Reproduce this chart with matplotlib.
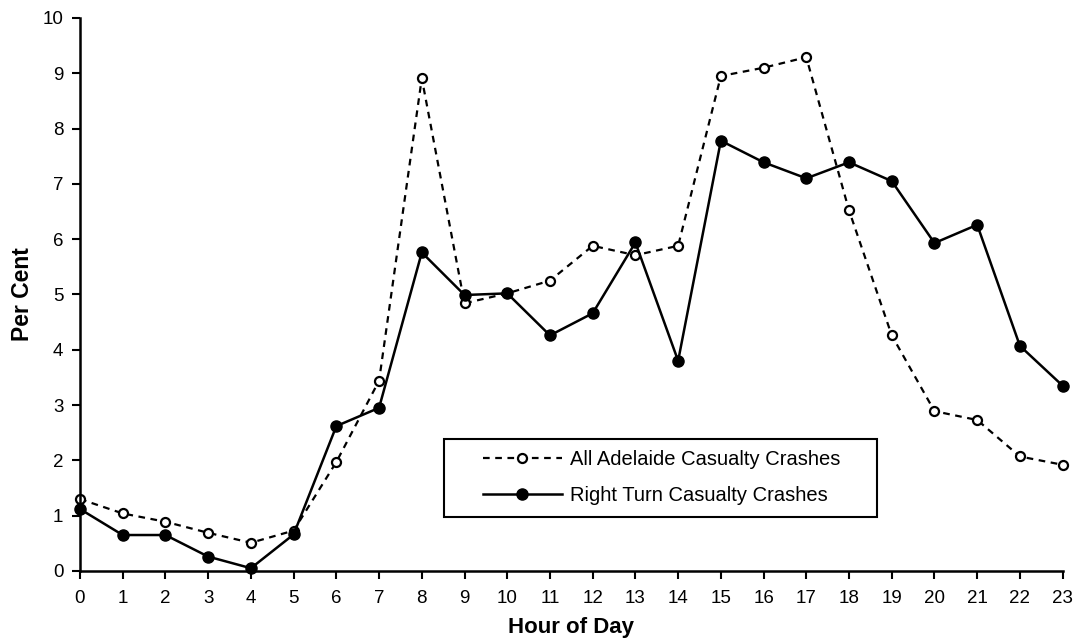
import matplotlib.pyplot as plt
from matplotlib.patches import Rectangle

plt.rcParams["font.family"] = ["Liberation Sans", "DejaVu Sans"]

hours = list(range(24))
hour_labels = [str(h) for h in hours]

# per cent of casualty crashes by hour
all_adelaide = [1.30, 1.04, 0.89, 0.69, 0.51, 0.73, 1.97, 3.44, 8.91, 4.84,
                5.02, 5.25, 5.88, 5.71, 5.88, 8.95, 9.10, 9.29, 6.52, 4.26,
                2.89, 2.73, 2.07, 1.92]
right_turn = [1.12, 0.65, 0.65, 0.26, 0.05, 0.66, 2.62, 2.95, 5.76, 4.99,
              5.02, 4.26, 4.66, 5.94, 3.80, 7.78, 7.39, 7.10, 7.39, 7.05,
              5.93, 6.26, 4.07, 3.35]

fig = plt.figure(figsize=(10.84, 6.44), dpi=100)
ax = fig.add_axes([0.0738, 0.1134, 0.9065, 0.8587])

ax.plot(hours, all_adelaide, color="black", linestyle=(0, (3, 2.5)), linewidth=1.6,
        marker="o", markersize=6.5, markerfacecolor="white", markeredgewidth=1.6,
        label="All Adelaide Casualty Crashes", clip_on=False)
ax.plot(hours, right_turn, color="black", linestyle="-", linewidth=1.8,
        marker="o", markersize=8, markerfacecolor="black",
        label="Right Turn Casualty Crashes", clip_on=False)

ax.set_xlim(0, 23)
ax.set_ylim(0, 10)
ax.set_xticks(hours)
ax.set_xticklabels(hour_labels)
ax.set_yticks(range(11))
ax.tick_params(direction="out", length=6, width=1.5, labelsize=13.5)
ax.tick_params(axis="x", pad=8)
ax.tick_params(axis="y", pad=6)
ax.spines["top"].set_visible(False)
ax.spines["right"].set_visible(False)
for s in ("left", "bottom"):
    ax.spines[s].set_linewidth(1.8)

ax.set_xlabel("Hour of Day", fontsize=16, fontweight="bold", labelpad=7)
ax.set_ylabel("Per Cent", fontsize=16.5, fontweight="bold", labelpad=6)

# legend box drawn separately so the padding matches the original
ax.add_patch(Rectangle((0.3704, 0.0976), 0.4406, 0.1411, transform=ax.transAxes,
                       fill=False, edgecolor="black", linewidth=1.5, clip_on=False))
ax.legend(loc="center left", bbox_to_anchor=(0.4101, 0.169), fontsize=14.5,
          frameon=False, handlelength=3.9, numpoints=1, borderpad=0,
          borderaxespad=0, labelspacing=0.8, handletextpad=0.4)

fig.savefig("out.png", dpi=100)
